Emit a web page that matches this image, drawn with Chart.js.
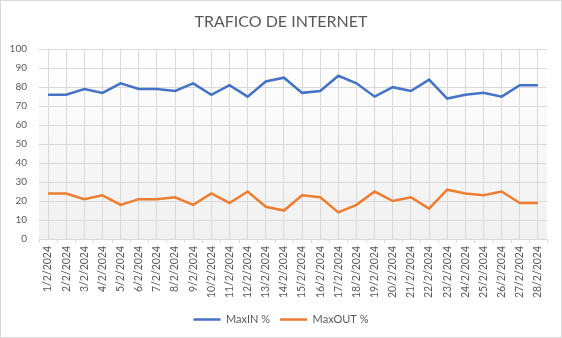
<!DOCTYPE html>
<html>
<head>
<meta charset="utf-8">
<script src="https://cdn.jsdelivr.net/npm/chart.js@4"></script>
<style>
  body { margin: 0; background: #fff; }
  #marco { width: 562px; height: 338px; box-sizing: border-box; border: 1px solid #d9d9d9; }
</style>
</head>
<body>
<div id="marco"><canvas id="trafico" width="560" height="336"></canvas></div>
<script>
// Fechas del mes de febrero
const fechas = [
  '1/2/2024', '2/2/2024', '3/2/2024', '4/2/2024', '5/2/2024', '6/2/2024', '7/2/2024',
  '8/2/2024', '9/2/2024', '10/2/2024', '11/2/2024', '12/2/2024', '13/2/2024', '14/2/2024',
  '15/2/2024', '16/2/2024', '17/2/2024', '18/2/2024', '19/2/2024', '20/2/2024', '21/2/2024',
  '22/2/2024', '23/2/2024', '24/2/2024', '25/2/2024', '26/2/2024', '27/2/2024', '28/2/2024'
];

// Porcentajes máximos de entrada y salida
const maxIn = [76, 76, 79, 77, 82, 79, 79, 78, 82, 76, 81, 75, 83, 85,
               77, 78, 86, 82, 75, 80, 78, 84, 74, 76, 77, 75, 81, 81];
const maxOut = [24, 24, 21, 23, 18, 21, 21, 22, 18, 24, 19, 25, 17, 15,
                23, 22, 14, 18, 25, 20, 22, 16, 26, 24, 23, 25, 19, 19];

const ejeY = { min: 0, max: 100, paso: 10 };

const gris = '#595959';
const rejilla = '#d9d9d9';

// Fondo degradado del área de trazado
const fondoArea = {
  id: 'fondoArea',
  beforeDraw(chart) {
    const { ctx, chartArea: a } = chart;
    const g = ctx.createLinearGradient(0, a.top, 0, a.bottom);
    g.addColorStop(0, '#ffffff');
    g.addColorStop(1, '#f0f0f0');
    ctx.save();
    ctx.fillStyle = g;
    ctx.fillRect(a.left, a.top, a.right - a.left, a.bottom - a.top);
    ctx.restore();
  }
};

// Marcas del eje X entre categorías
const marcasX = {
  id: 'marcasX',
  afterDraw(chart) {
    const { ctx, chartArea: a } = chart;
    const x = chart.scales.x;
    const paso = x.getPixelForValue(1) - x.getPixelForValue(0);
    ctx.save();
    ctx.strokeStyle = rejilla;
    ctx.lineWidth = 1;
    ctx.beginPath();
    for (let i = 0; i <= fechas.length; i++) {
      const px = Math.round(x.getPixelForValue(i) - paso / 2) + 0.5;
      ctx.moveTo(px, a.bottom);
      ctx.lineTo(px, a.bottom + 4);
    }
    ctx.stroke();
    ctx.restore();
  }
};

new Chart(document.getElementById('trafico'), {
  type: 'line',
  data: {
    labels: fechas,
    datasets: [
      {
        label: 'MaxIN %',
        data: maxIn,
        borderColor: '#4472c4',
        backgroundColor: '#4472c4',
        borderWidth: 2.5,
        pointRadius: 0,
        tension: 0
      },
      {
        label: 'MaxOUT %',
        data: maxOut,
        borderColor: '#ed7d31',
        backgroundColor: '#ed7d31',
        borderWidth: 2.5,
        pointRadius: 0,
        tension: 0
      }
    ]
  },
  options: {
    responsive: false,
    animation: false,
    layout: { padding: { left: 0, right: 0, bottom: 2 } },
    plugins: {
      title: {
        display: true,
        text: 'TRAFICO DE INTERNET',
        color: gris,
        font: { family: 'Lato', size: 16, weight: 'normal' },
        padding: { top: 11, bottom: 18 }
      },
      legend: {
        position: 'bottom',
        labels: {
          color: gris,
          font: { family: 'Lato', size: 11 },
          usePointStyle: true,
          pointStyle: 'line',
          pointStyleWidth: 27,
          boxHeight: 4,
          padding: 10
        }
      },
      tooltip: { enabled: false }
    },
    scales: {
      x: {
        offset: true,
        grid: { color: rejilla, offset: false, drawTicks: false },
        border: { color: rejilla },
        ticks: {
          color: gris,
          font: { family: 'Lato', size: 10.5 },
          minRotation: 90,
          maxRotation: 90,
          autoSkip: false,
          padding: 7
        },
        // margen derecho del área de trazado sin desplazar la leyenda
        afterFit(scale) {
          scale.height = 65;
          scale.paddingRight = 14;
        }
      },
      y: {
        min: ejeY.min,
        max: ejeY.max,
        grid: { color: rejilla, drawTicks: false },
        border: { display: false },
        ticks: {
          stepSize: ejeY.paso,
          color: gris,
          font: { family: 'Lato', size: 10 },
          padding: 12
        },
        afterFit(scale) { scale.width = 38; }
      }
    }
  },
  plugins: [fondoArea, marcasX]
});
</script>
</body>
</html>
